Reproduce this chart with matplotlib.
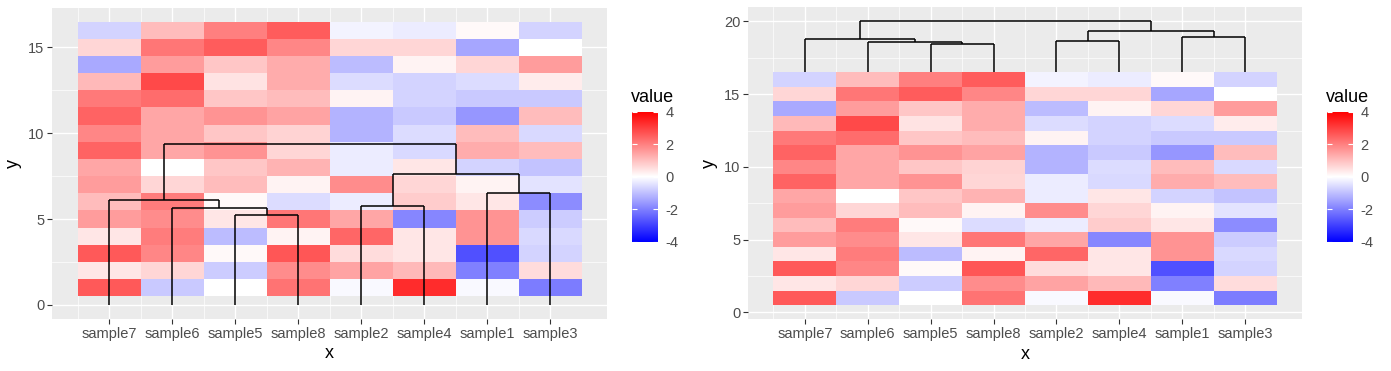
import numpy as np
import matplotlib
matplotlib.use("Agg")
import matplotlib.pyplot as plt
from matplotlib.colors import LinearSegmentedColormap, Normalize
from matplotlib.cm import ScalarMappable
from matplotlib.ticker import MultipleLocator

# ---------------- data ----------------
samples = ["sample7", "sample6", "sample5", "sample8", "sample2", "sample4", "sample1", "sample3"]
rows = list(range(1, 17))  # y = 1 .. 16 (bottom -> top)

sample7 = [2.6, 0.4, 2.6, 0.4, 1.55, 1.05, 1.55, 1.4, 2.45, 1.9, 2.45, 2.1, 1.1, -1.35, 0.65, -0.7]
sample6 = [-0.85, 0.65, 1.9, 2.05, 1.8, 2.05, 0.65, 0.0, 1.4, 1.4, 1.4, 2.3, 2.85, 1.55, 2.15, 1.05]
sample5 = [0.0, -0.8, 0.1, -1.05, 0.4, 0.1, 1.05, 0.9, 1.7, 0.9, 1.7, 0.9, 0.45, 0.9, 2.55, 2.0]
sample8 = [2.2, 1.8, 2.65, 0.2, 2.15, -0.55, 0.2, 1.2, 0.65, 0.7, 1.45, 1.05, 1.3, 1.3, 1.9, 2.55]
sample2 = [-0.1, 1.45, 0.55, 2.4, 1.4, -0.3, 1.8, -0.3, -0.3, -1.2, -1.2, 0.2, -0.55, -1.05, 0.65, -0.2]
sample4 = [3.3, 1.1, 0.4, 0.4, -1.9, 0.8, 0.65, 0.4, -0.6, -0.55, -0.85, -0.7, -0.7, 0.2, 0.65, -0.3]
sample1 = [-0.1, -2.0, -2.75, 1.7, 1.7, 0.4, 0.2, -0.7, 1.3, 1.05, -1.65, -0.85, -0.55, 0.65, -1.4, 0.1]
sample3 = [-2.05, 0.55, -0.7, -0.6, -0.8, -1.8, -0.45, -0.95, 1.05, -0.6, 1.05, -0.85, 0.3, 1.55, 0.0, -0.7]

# dendrogram merges: (child a, child b, height); "mN" = result of merge N
link_a = ["sample5", "m0", "sample7", "sample2", "sample1", "m3", "m2"]
link_b = ["sample8", "sample6", "m1", "sample4", "sample3", "m4", "m5"]
link_h = [5.26, 5.67, 6.13, 5.73, 6.54, 7.63, 9.37]

dend_base_right = 16.5
dend_scale_right = 0.3735

color_breaks = [-4, -2, 0, 2, 4]

# ---------------- colormap ----------------
cmap = LinearSegmentedColormap.from_list("bwr_gg", ["#0000FF", "#FFFFFF", "#FF0000"], N=512)
norm = Normalize(-4, 4)

# ---------------- figure ----------------
W, H = 1391, 371
plt.rcParams['font.family'] = ['Liberation Sans', 'DejaVu Sans']
plt.rcParams['axes.unicode_minus'] = False
fig = plt.figure(figsize=(W / 100, H / 100), dpi=100)

Z = np.array([sample7, sample6, sample5, sample8, sample2, sample4, sample1, sample3]).T
xpos = np.arange(1, len(samples) + 1)
ypos = np.array(rows)
xedges = np.concatenate([xpos - 0.5, [xpos[-1] + 0.5]])
yedges = np.concatenate([ypos - 0.5, [ypos[-1] + 0.5]])

tick_fs = 10.5
title_fs = 13
grey30 = "#4D4D4D"


def dendro_segments(base, scale):
    xs = {s: i + 1 for i, s in enumerate(samples)}
    hs = {s: base for s in samples}
    segs = []
    for i, (a, b, h) in enumerate(zip(link_a, link_b, link_h)):
        y = base + h * scale
        xa, xb = xs[a], xs[b]
        segs.append(((xa, xa), (hs[a], y)))
        segs.append(((xb, xb), (hs[b], y)))
        segs.append(((xa, xb), (y, y)))
        xs["m%d" % i] = (xa + xb) / 2
        hs["m%d" % i] = y
    return segs


def style_axes(ax, ylim, ymajor):
    ax.set_facecolor("#EBEBEB")
    for sp in ax.spines.values():
        sp.set_visible(False)
    ax.set_xlim(0.1, 8.9)
    ax.set_ylim(*ylim)
    ax.set_xticks(xpos)
    ax.set_xticks(xpos - 0.5, minor=True)
    ax.set_xticklabels(samples)
    ax.set_yticks(ymajor)
    ax.yaxis.set_minor_locator(MultipleLocator(2.5))
    ax.grid(which="major", color="white", linewidth=1.0)
    ax.grid(which="minor", color="white", linewidth=0.5)
    ax.set_axisbelow(True)
    ax.tick_params(which="major", length=3.3, width=0.8, color="#333333",
                   labelsize=tick_fs, labelcolor=grey30, pad=2.5)
    ax.tick_params(which="minor", length=0)
    ax.set_xlabel("x", fontsize=title_fs, labelpad=3)
    ax.set_ylabel("y", fontsize=title_fs, labelpad=4)


def add_colorbar(left_px, title_x_px):
    cax = fig.add_axes([left_px / W, 1 - 241.7 / H, 26.6 / W, 130 / H])
    cb = fig.colorbar(ScalarMappable(norm=norm, cmap=cmap), cax=cax)
    cb.outline.set_visible(False)
    cb.set_ticks(color_breaks)
    cb.ax.tick_params(direction="in", length=3.8, width=0.8, color="white",
                      left=True, right=True, labelsize=tick_fs, labelcolor=grey30, pad=5)
    fig.text(title_x_px / W, 1 - 97 / H, "value", fontsize=title_fs, ha="left", va="center")


# ---- left panel ----
axL = fig.add_axes([52.3 / W, 1 - 319 / H, (606.7 - 52.3) / W, (319 - 7.5) / H])
axL.pcolormesh(xedges, yedges, Z, cmap=cmap, norm=norm, zorder=2)
for xs_, ys_ in dendro_segments(0.0, 1.0):
    axL.plot(xs_, ys_, color="black", linewidth=1.1, zorder=3, solid_capstyle="butt")
style_axes(axL, (-0.825, 17.325), [0, 5, 10, 15])
add_colorbar(631.7, 631)

# ---- right panel ----
axR = fig.add_axes([748.3 / W, 1 - 319.3 / H, (1301.7 - 748.3) / W, (319.3 - 7.3) / H])
axR.pcolormesh(xedges, yedges, Z, cmap=cmap, norm=norm, zorder=2)
for xs_, ys_ in dendro_segments(dend_base_right, dend_scale_right):
    axR.plot(xs_, ys_, color="black", linewidth=1.1, zorder=3, solid_capstyle="butt")
style_axes(axR, (-0.475, 20.975), [0, 5, 10, 15, 20])
add_colorbar(1326.7, 1326)

fig.savefig("out.png", dpi=100)
